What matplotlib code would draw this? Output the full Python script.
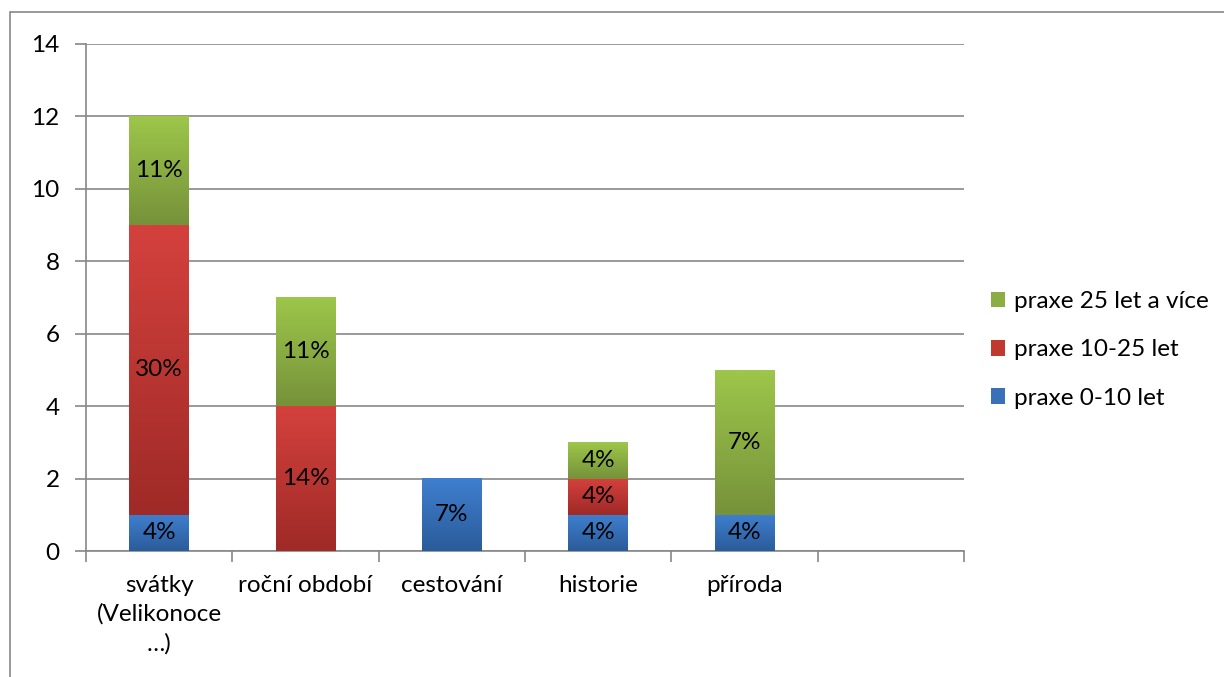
import numpy as np
import matplotlib.pyplot as plt
from matplotlib.colors import LinearSegmentedColormap
from matplotlib.patches import Patch, Rectangle

plt.rcParams['font.family'] = ['Lato', 'DejaVu Sans']

# data
categories = ["svátky\n(Velikonoce\n…)", "roční období", "cestování", "historie", "příroda", ""]
blue = [1, 0, 2, 1, 1, 0]
red = [8, 4, 0, 1, 0, 0]
green = [3, 3, 0, 1, 4, 0]
blue_lbl = ["4%", "", "7%", "4%", "4%", ""]
red_lbl = ["30%", "14%", "", "4%", "", ""]
green_lbl = ["11%", "11%", "", "4%", "7%", ""]
series_names = ["praxe 0-10 let", "praxe 10-25 let", "praxe 25 let a více"]

# gradient colours (top, bottom)
grads = {
    "blue": ("#3f7fcf", "#2b5c9a"),
    "red": ("#d4413d", "#9f2a27"),
    "green": ("#9dc64a", "#76923a"),
}
mids = {"blue": "#3a70b8", "red": "#c0392f", "green": "#8cad43"}
fs = 17.5

fig = plt.figure(figsize=(12.24, 6.77), dpi=100)
ax = fig.add_axes([86/1224, 1-551/677, (964-86)/1224, (551-44)/677])

grid_c = "#878787"
x = np.arange(len(categories)) + 0.5
width = 0.41
bottom = np.zeros(len(categories))
grad = np.linspace(1, 0, 100).reshape(-1, 1)

for vals, lbls, key in [(blue, blue_lbl, "blue"), (red, red_lbl, "red"), (green, green_lbl, "green")]:
    vals = np.array(vals, dtype=float)
    cmap = LinearSegmentedColormap.from_list(key, [grads[key][1], grads[key][0]])
    for xi, v, b, lab in zip(x, vals, bottom, lbls):
        if v <= 0:
            continue
        ax.imshow(grad, extent=[xi - width/2, xi + width/2, b, b + v], cmap=cmap,
                  aspect='auto', zorder=3, vmin=0, vmax=1, interpolation='bilinear')
        if lab:
            ax.text(xi, b + v/2, lab, ha='center', va='center', fontsize=fs, color='black', zorder=4)
    bottom += vals

ax.set_xlim(0, 6)
ax.set_ylim(0, 14)
ax.set_yticks(np.arange(0, 15, 2))
ax.yaxis.grid(True, color=grid_c, linewidth=1.2, zorder=0)
ax.set_axisbelow(True)

ax.set_xticks(np.arange(0, 7))
ax.set_xticklabels([])
ax.set_xticks(x, minor=True)
ax.set_xticklabels(categories, minor=True, fontsize=fs, linespacing=1.45, va='top')
ax.tick_params(axis='x', which='minor', length=0, pad=17)
ax.tick_params(axis='x', which='major', length=8, color=grid_c, width=1.2)
ax.tick_params(axis='y', length=8, color=grid_c, width=1.2, labelsize=fs, pad=11)

for s in ['top', 'right']:
    ax.spines[s].set_visible(False)
for s in ['left', 'bottom']:
    ax.spines[s].set_color(grid_c)
    ax.spines[s].set_linewidth(1.2)

handles = [Patch(facecolor=mids[k]) for k in ["green", "red", "blue"]]
ax.legend(handles, series_names[::-1], loc='center left', bbox_to_anchor=(969/1224, 1-350/677),
          bbox_transform=fig.transFigure, frameon=False, fontsize=fs,
          handlelength=0.6, handleheight=0.6, handletextpad=0.35, labelspacing=1.12)

# outer chart frame
fig.patches.append(Rectangle((10/1224, -0.2), 1.2, 1-12/677 + 0.2, transform=fig.transFigure,
                             fill=False, edgecolor=grid_c, linewidth=1.2))

fig.savefig("out.png", dpi=100)
